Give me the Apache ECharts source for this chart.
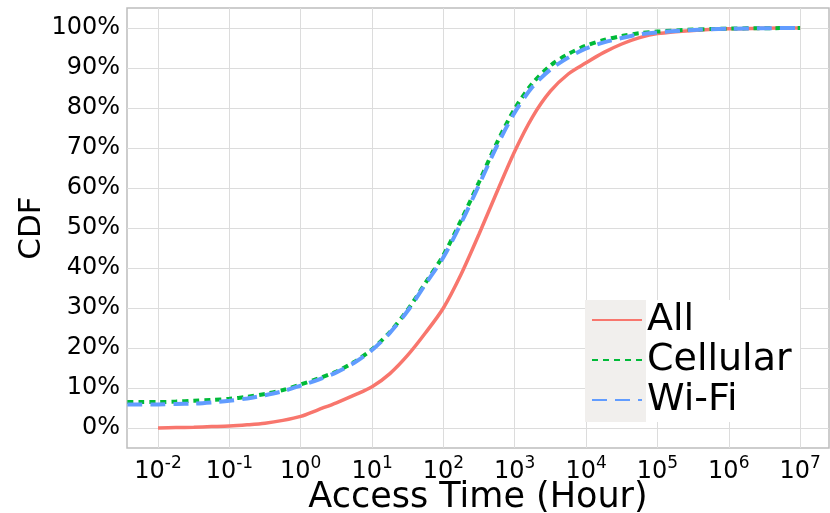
<!DOCTYPE html>
<html>
<head>
<meta charset="utf-8">
<script src="https://cdn.jsdelivr.net/npm/echarts@6/dist/echarts.min.js"></script>
<style>
  html, body { margin: 0; padding: 0; background: #fff; }
  #chart { width: 830px; height: 513px; }
</style>
</head>
<body>
<div id="chart"></div>
<script>
// x values are log10(hours), y values are CDF in %
const allX = [-2, -1.75, -1.5, -1.25, -1, -0.75, -0.5, -0.25, 0, 0.25, 0.5, 0.75, 1, 1.25, 1.5, 1.75, 2, 2.25, 2.5, 2.75, 3, 3.25, 3.5, 3.75, 4, 4.25, 4.5, 4.75, 5, 5.5, 6, 6.5, 7]
const allY = [0, 0.1, 0.2, 0.35, 0.5, 0.8, 1.2, 1.9, 2.9, 4.6, 6.3, 8.2, 10.3, 13.6, 18.2, 23.8, 30, 38.5, 48.5, 59, 69.2, 77.8, 84.2, 88.5, 91.3, 93.9, 96.0, 97.6, 98.6, 99.4, 99.8, 99.95, 100]

const netX = [-2.43, -2.25, -2, -1.75, -1.5, -1.25, -1, -0.75, -0.5, -0.25, 0, 0.25, 0.5, 0.75, 1, 1.25, 1.5, 1.75, 2, 2.25, 2.5, 2.75, 3, 3.25, 3.5, 3.75, 4, 4.25, 4.5, 4.75, 5, 5.5, 6, 6.5, 7]
const cellularY = [6.5, 6.5, 6.5, 6.6, 6.8, 7.0, 7.3, 7.8, 8.5, 9.5, 10.9, 12.4, 14.1, 16.5, 19.7, 24, 29.6, 36.3, 43.2, 52, 61.5, 71.3, 79.8, 86.2, 90.6, 93.5, 95.6, 97, 98, 98.7, 99.1, 99.6, 99.85, 99.95, 100]
const wifiY = [5.9, 5.9, 5.9, 6.0, 6.1, 6.4, 6.8, 7.4, 8.2, 9.2, 10.6, 12.1, 13.9, 16.3, 19.5, 23.8, 29.3, 36.0, 42.7, 51.3, 60.8, 70.5, 78.9, 85.3, 89.6, 92.6, 94.9, 96.4, 97.5, 98.4, 98.9, 99.5, 99.8, 99.95, 100]

const xTicks = [-2, -1, 0, 1, 2, 3, 4, 5, 6, 7]
const yTicks = [0, 10, 20, 30, 40, 50, 60, 70, 80, 90, 100]

const font = 'DejaVu Sans'

function pairs(xs, ys) {
  return xs.map((x, i) => [x, ys[i]])
}

const chart = echarts.init(document.getElementById('chart'))

chart.setOption({
  animation: false,
  grid: {
    left: 127,
    right: 1,
    top: 8,
    bottom: 65,
    outerBoundsMode: 'none',
    show: true,
    borderColor: '#bdbdbd',
    borderWidth: 1.5
  },
  xAxis: {
    type: 'value',
    min: -2.435,
    max: 7.405,
    name: 'Access Time (Hour)',
    nameLocation: 'middle',
    nameMoveOverlap: false,
    nameGap: 32,
    nameTextStyle: { fontFamily: font, fontSize: 35, color: '#000' },
    axisLine: { show: false },
    axisTick: { show: false, customValues: xTicks },
    splitLine: { show: true, lineStyle: { color: '#dcdcdc', width: 1 } },
    axisLabel: {
      customValues: xTicks,
      margin: 7,
      formatter: v => '{n|10}{s|' + v + '}',
      rich: {
        n: { fontFamily: font, fontSize: 24, lineHeight: 34, color: '#000' },
        s: { fontFamily: font, fontSize: 17, lineHeight: 17, verticalAlign: 'top', color: '#000' }
      }
    }
  },
  yAxis: {
    type: 'value',
    min: -5,
    max: 105,
    name: 'CDF',
    nameLocation: 'middle',
    nameMoveOverlap: false,
    nameGap: 80,
    nameTextStyle: { fontFamily: font, fontSize: 31, color: '#000' },
    axisLine: { show: false },
    axisTick: { show: false, customValues: yTicks },
    splitLine: { show: true, lineStyle: { color: '#dcdcdc', width: 1 } },
    axisLabel: {
      customValues: yTicks,
      margin: 7,
      fontFamily: font,
      fontSize: 24,
      color: '#000',
      formatter: v => v + '%'
    }
  },
  graphic: [
    { type: 'rect', z: 5, shape: { x: 585, y: 300, width: 215, height: 122 }, style: { fill: '#fff' } },
    { type: 'rect', z: 6, shape: { x: 585, y: 300, width: 61, height: 122 }, style: { fill: '#f1efed' } }
  ],
  legend: {
    z: 10,
    orient: 'vertical',
    left: 591,
    top: 300,
    padding: 0,
    itemGap: 0,
    itemWidth: 50,
    itemHeight: 14,
    itemStyle: { opacity: 0 },
    textStyle: { fontFamily: font, fontSize: 38, lineHeight: 40, color: '#000' },
    data: ['All', 'Cellular', 'Wi-Fi']
  },
  series: [{
    name: 'All',
    type: 'line',
    symbol: 'none',
    smooth: 0.3,
    color: '#f8766d',
    lineStyle: { width: 3.5, color: '#f8766d' },
    data: pairs(allX, allY)
  }, {
    name: 'Cellular',
    type: 'line',
    symbol: 'none',
    smooth: 0.3,
    color: '#00ba38',
    lineStyle: { width: 4, color: '#00ba38', type: [6, 5] },
    data: pairs(netX, cellularY)
  }, {
    name: 'Wi-Fi',
    type: 'line',
    symbol: 'none',
    smooth: 0.3,
    color: '#619cff',
    lineStyle: { width: 4, color: '#619cff', type: [15, 8] },
    data: pairs(netX, wifiY)
  }]
})
</script>
</body>
</html>
